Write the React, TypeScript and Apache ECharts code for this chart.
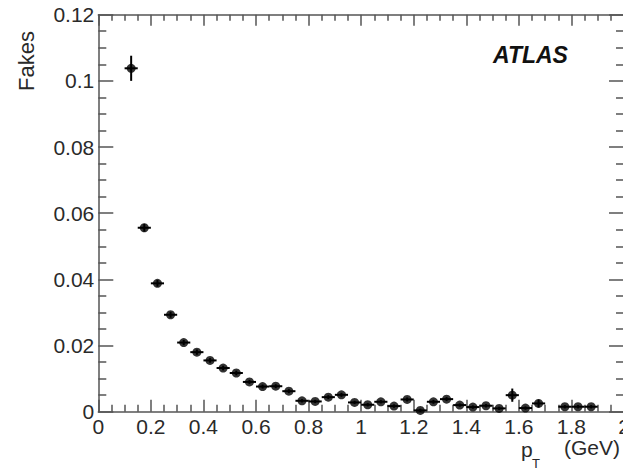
import React, { useEffect, useRef } from "react";
import * as echarts from "echarts";

// Bin centres of p_T (GeV); the 1.725 bin has no entry
const binCenters = [
  0.125, 0.175, 0.225, 0.275, 0.325, 0.375, 0.425, 0.475, 0.525, 0.575,
  0.625, 0.675, 0.725, 0.775, 0.825, 0.875, 0.925, 0.975, 1.025, 1.075,
  1.125, 1.175, 1.225, 1.275, 1.325, 1.375, 1.425, 1.475, 1.525, 1.575,
  1.625, 1.675, 1.775, 1.825, 1.875,
];
// Fake rate per bin
const fakes = [
  0.1038, 0.0556, 0.0388, 0.0293, 0.0209, 0.018, 0.0155, 0.0132, 0.0117, 0.009,
  0.0076, 0.0077, 0.0062, 0.0033, 0.0031, 0.0044, 0.0051, 0.0028, 0.0021, 0.003,
  0.0017, 0.0037, 0.0004, 0.003, 0.0038, 0.002, 0.0014, 0.0018, 0.001, 0.005,
  0.0011, 0.0025, 0.0015, 0.0015, 0.0015,
];
// Statistical uncertainty per bin
const fakesErr = [
  0.0038, 0.0012, 0.001, 0.0009, 0.0008, 0.0008, 0.0007, 0.0007, 0.0007, 0.0006,
  0.0006, 0.0006, 0.0006, 0.0005, 0.0005, 0.0006, 0.0006, 0.0005, 0.0005, 0.0005,
  0.0005, 0.0006, 0.0005, 0.0006, 0.0006, 0.0005, 0.0005, 0.0005, 0.0005, 0.002,
  0.0005, 0.0012, 0.0005, 0.0005, 0.0005,
];
const binHalfWidth = 0.025;

const xTitle = "p";
const xTitleSub = "T";
const xTitleUnit = "(GeV)";
const yTitle = "Fakes";
const experimentLabel = "ATLAS";

const FONT = "'Liberation Sans', Arial, Helvetica, sans-serif";
const AXIS_COLOR = "#555";
const TEXT_COLOR = "#2a2a2a";

export default function App() {
  const ref = useRef<HTMLDivElement>(null);

  useEffect(() => {
    if (!ref.current) return;
    const chart = echarts.init(ref.current, null, { renderer: "svg" });

    const gridLeft = 98.3;
    const gridTop = 14.7;
    const gridWidth = 525.7;
    const gridHeight = 397;

    const axisLine = { show: true, onZero: false, lineStyle: { color: AXIS_COLOR, width: 1.5 } };

    const xBase = {
      type: "value" as const,
      min: 0,
      max: 2,
      interval: 0.2,
      splitLine: { show: false },
      minorSplitLine: { show: false },
      axisLine,
    };
    const yBase = {
      type: "value" as const,
      min: 0,
      max: 0.12,
      interval: 0.02,
      splitLine: { show: false },
      minorSplitLine: { show: false },
      axisLine,
    };

    const data = binCenters.map((x, i) => [x, fakes[i], fakesErr[i]]);

    chart.setOption({
      animation: false,
      backgroundColor: "#fff",
      grid: {
        left: gridLeft,
        top: gridTop,
        width: gridWidth,
        height: gridHeight,
        containLabel: false,
        outerBoundsMode: "none",
      },
      xAxis: [
        {
          ...xBase,
          position: "bottom",
          axisTick: { show: true, inside: true, length: 12, lineStyle: { color: AXIS_COLOR, width: 1.5 } },
          minorTick: { show: true, splitNumber: 4, length: 7, lineStyle: { color: AXIS_COLOR, width: 1.5 } },
          axisLabel: {
            show: true,
            margin: 4,
            fontSize: 21,
            fontFamily: FONT,
            color: TEXT_COLOR,
            showMinLabel: true,
            showMaxLabel: true,
          },
        },
        {
          ...xBase,
          position: "top",
          axisTick: { show: true, inside: true, length: 11, lineStyle: { color: AXIS_COLOR, width: 1.5 } },
          minorTick: { show: true, splitNumber: 4, length: 6, lineStyle: { color: AXIS_COLOR, width: 1.5 } },
          axisLabel: { show: false },
        },
      ],
      yAxis: [
        {
          ...yBase,
          position: "left",
          axisTick: { show: true, inside: true, length: 15, lineStyle: { color: AXIS_COLOR, width: 1.5 } },
          minorTick: { show: true, splitNumber: 4, length: 8, lineStyle: { color: AXIS_COLOR, width: 1.5 } },
          axisLabel: {
            show: true,
            margin: 4,
            fontSize: 21,
            fontFamily: FONT,
            color: TEXT_COLOR,
            padding: [5, 0, 0, 0],
            showMinLabel: true,
            showMaxLabel: true,
          },
        },
        {
          ...yBase,
          position: "right",
          axisTick: { show: true, inside: true, length: 15, lineStyle: { color: AXIS_COLOR, width: 1.5 } },
          minorTick: { show: true, splitNumber: 4, length: 8, lineStyle: { color: AXIS_COLOR, width: 1.5 } },
          axisLabel: { show: false },
        },
      ],
      series: [
        {
          type: "custom",
          xAxisIndex: 0,
          yAxisIndex: 0,
          clip: false,
          encode: { x: 0, y: 1 },
          data,
          renderItem: (params: any, api: any) => {
            const x = api.value(0);
            const y = api.value(1);
            const e = api.value(2);
            const c = api.coord([x, y]);
            const l = api.coord([x - binHalfWidth, y]);
            const r = api.coord([x + binHalfWidth, y]);
            const t = api.coord([x, y + e]);
            const b = api.coord([x, y - e]);
            return {
              type: "group",
              children: [
                {
                  type: "line",
                  shape: { x1: l[0], y1: c[1], x2: r[0], y2: c[1] },
                  style: { stroke: "#000", lineWidth: 2 },
                },
                {
                  type: "line",
                  shape: { x1: c[0], y1: t[1], x2: c[0], y2: b[1] },
                  style: { stroke: "#000", lineWidth: 2 },
                },
              ],
            };
          },
          z: 3,
        },
        {
          type: "scatter",
          xAxisIndex: 0,
          yAxisIndex: 0,
          clip: false,
          symbol: "circle",
          symbolSize: 9,
          itemStyle: { color: "#000" },
          data: binCenters.map((x, i) => [x, fakes[i]]),
          z: 4,
        },
      ],
      graphic: [
        {
          type: "text",
          x: 26,
          y: 61,
          rotation: Math.PI / 2,
          style: {
            text: yTitle,
            font: `22px ${FONT}`,
            fill: TEXT_COLOR,
            align: "center",
            verticalAlign: "middle",
          },
        },
        {
          type: "text",
          x: 493,
          y: 55,
          style: {
            text: experimentLabel,
            font: `italic bold 23px ${FONT}`,
            fill: "#111",
            align: "left",
            verticalAlign: "middle",
          },
        },
        {
          type: "text",
          x: 521,
          y: 449,
          style: {
            text: xTitle,
            font: `21px ${FONT}`,
            fill: TEXT_COLOR,
            align: "left",
            verticalAlign: "middle",
          },
        },
        {
          type: "text",
          x: 532,
          y: 463,
          style: {
            text: xTitleSub,
            font: `13px ${FONT}`,
            fill: TEXT_COLOR,
            align: "left",
            verticalAlign: "middle",
          },
        },
        {
          type: "text",
          x: 620,
          y: 447,
          style: {
            text: xTitleUnit,
            font: `21px ${FONT}`,
            fill: TEXT_COLOR,
            align: "right",
            verticalAlign: "middle",
          },
        },
      ],
    });

    return () => {
      chart.dispose();
    };
  }, []);

  return (
    <div
      ref={ref}
      style={{ position: "fixed", left: 0, top: 0, width: 623, height: 469, background: "#fff" }}
    />
  );
}
